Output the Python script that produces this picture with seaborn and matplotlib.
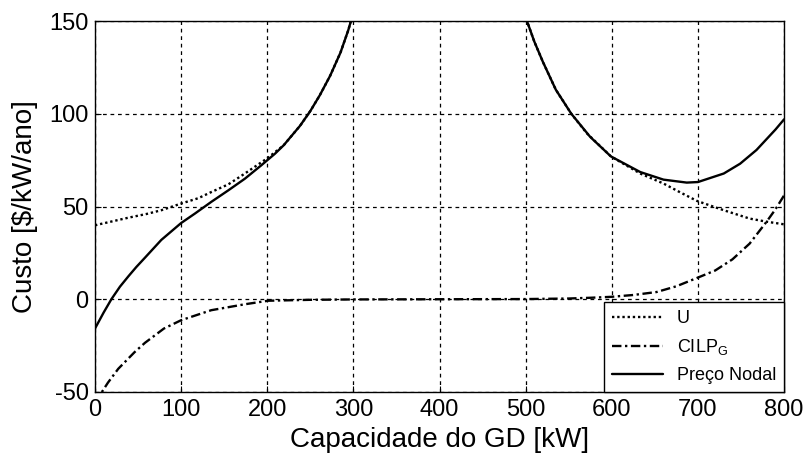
import numpy as np
import pandas as pd
import matplotlib
matplotlib.use("Agg")
import matplotlib.pyplot as plt
from matplotlib.lines import Line2D
import seaborn as sns

# Capacity of the distributed generator [kW] and cost curves [$/kW/ano]
u_x = [0, 20, 39, 60, 77, 100, 120, 135, 155, 174, 200, 219, 238, 250, 261, 273, 285, 294, 300, 310, 320,
       480, 490, 500, 510, 520, 535, 553, 571, 599, 633, 660, 680, 699, 730, 760, 780, 800]
u_y = [39.9, 42, 44, 46, 48, 51.6, 54.5, 57.8, 62, 67.8, 76, 83, 93.5, 101.5, 110, 120.5, 133, 145, 154.5, 172, 192,
       192, 172, 152, 139, 128, 113, 100, 89.5, 77, 67.8, 62.4, 57.5, 53, 48, 43.5, 41.8, 40.4]

cilp_x = [0, 8, 15, 27, 46, 58, 80, 100, 135, 174, 201, 250, 300, 400, 500, 550, 575,
          599, 625, 652, 675, 699, 720, 740, 760, 780, 790, 800]
cilp_y = [-56, -50, -45, -37.5, -28.5, -23.5, -15.8, -11.3, -5.9, -2.7, -0.8, -0.3, -0.1, 0, 0.1, 0.4, 0.8,
          1.3, 2.3, 3.9, 7, 11.5, 15.5, 21.5, 30, 42, 48.5, 56]

preco_x = [0, 10, 19, 29, 39, 48, 58, 77, 100, 116, 135, 155, 174, 193, 209, 219, 238, 250, 261, 273, 285,
           294, 300, 310, 320,
           480, 490, 500, 510, 520, 535, 553, 575, 599, 633, 660, 687, 700, 730, 749, 768, 780, 790, 800]
preco_y = [-15.8, -7.2, 0, 6.8, 12.5, 17.4, 22.4, 32, 41.1, 46.2, 52.5, 58.8, 65, 72.2, 78.5, 83, 93.5, 101.5,
           110, 120.5, 133, 145, 154.5, 172, 192,
           192, 172, 152, 139, 128, 113, 100, 87.5, 77, 68.6, 64.5, 62.9, 63.2, 67.8, 73.1, 80.5, 86.5, 91.5, 97]

labels = ["U", r"CILP$_G$", "Preço Nodal"]
x_ticks = [0, 100, 200, 300, 400, 500, 600, 700, 800]
y_ticks = [-50, 0, 50, 100, 150]

sns.set_theme(style="white")
plt.rcParams["font.family"] = ["Liberation Sans", "DejaVu Sans"]
plt.rcParams["mathtext.default"] = "regular"
plt.rcParams["axes.unicode_minus"] = False
plt.rcParams["text.color"] = "black"
plt.rcParams["axes.labelcolor"] = "black"

fig = plt.figure(figsize=(8.05, 4.54), dpi=100)
ax = fig.add_axes([0.118, 0.1366, 0.856, 0.817])

styles = [(0, (1, 1.2)), (0, (4, 1.5, 1, 1.5)), "-"]
series = [(u_x, u_y), (cilp_x, cilp_y), (preco_x, preco_y)]
for (xs, ys), ls in zip(series, styles):
    df = pd.DataFrame({"x": xs, "y": ys})
    sns.lineplot(data=df, x="x", y="y", ax=ax, color="black", linewidth=1.7,
                 linestyle=ls, sort=False, estimator=None)

ax.set_xlim(0, 800)
ax.set_ylim(-50, 150)
ax.set_xticks(x_ticks)
ax.set_yticks(y_ticks)
ax.grid(True, color="black", linestyle=(0, (3, 3)), linewidth=0.9)
ax.tick_params(axis="both", direction="in", length=4, width=0.8, labelsize=17,
               colors="black", bottom=True, left=True)
ax.tick_params(axis="x", pad=5)
ax.tick_params(axis="y", pad=4.5)
for s in ax.spines.values():
    s.set_color("black")
    s.set_linewidth(1.0)

ax.set_xlabel("Capacidade do GD [kW]", fontsize=20, color="black")
ax.set_ylabel("Custo [\\$/kW/ano]", fontsize=20, color="black")
ax.xaxis.set_label_coords(0.5, -0.095)
ax.yaxis.set_label_coords(-0.083, 0.5)

handles = [Line2D([], [], color="black", linewidth=1.7, linestyle=ls) for ls in styles]
leg = ax.legend(handles, labels, loc="lower right", borderaxespad=0, fontsize=13,
                frameon=True, fancybox=False, framealpha=1, edgecolor="black",
                handlelength=2.8, handletextpad=0.75, labelspacing=0.55,
                borderpad=0.45, labelcolor="black")
leg.get_frame().set_linewidth(1.0)

fig.savefig("out.png", dpi=100)
